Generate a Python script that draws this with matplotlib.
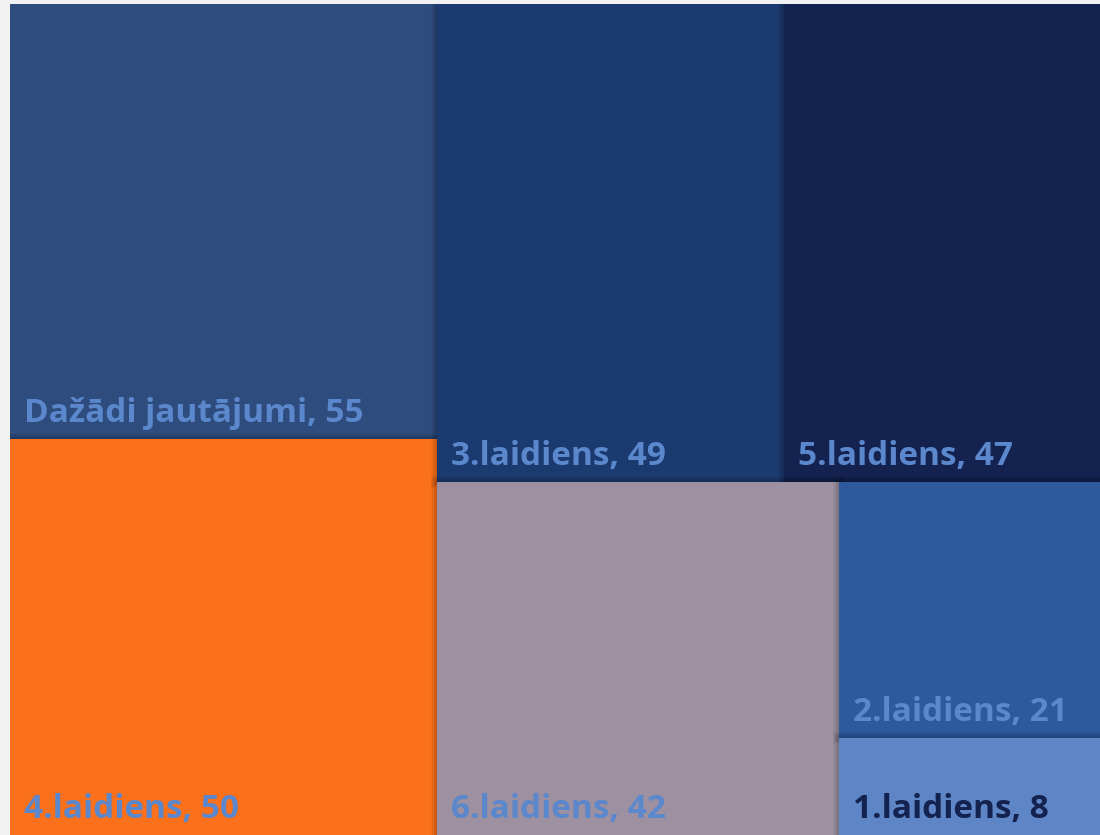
import matplotlib
matplotlib.use("Agg")
import matplotlib.pyplot as plt
from matplotlib.patches import Rectangle

labels = ["Dažādi jautājumi", "4.laidiens", "3.laidiens", "5.laidiens",
          "6.laidiens", "2.laidiens", "1.laidiens"]
values = [55, 50, 49, 47, 42, 21, 8]
colors = ["#2E4C7E", "#FB701A", "#1B3A6F", "#13224F", "#9D90A0", "#2C5A9D", "#5E85C5"]
label_colors = ["#5B87CC", "#5B87CC", "#5B87CC", "#5B87CC", "#5B87CC", "#5B87CC", "#13224F"]

W, H = 1106.0, 831.0


def worst(row, side):
    s = sum(row)
    return max(max(side * side * r / (s * s), (s * s) / (side * side * r)) for r in row)


def layout_row(row, x, y, w, h):
    s = sum(row)
    rects = []
    if w >= h:
        cw = s / h
        yy = y
        for r in row:
            rh = r / cw
            rects.append((x, yy, cw, rh))
            yy += rh
        return rects, (x + cw, y, w - cw, h)
    else:
        rh = s / w
        xx = x
        for r in row:
            rw = r / rh
            rects.append((xx, y, rw, rh))
            xx += rw
        return rects, (x, y + rh, w, h - rh)


def squarify(vals, x, y, w, h):
    total = sum(vals)
    areas = [v * w * h / total for v in vals]
    rects = []
    rest = (x, y, w, h)
    i = 0
    while i < len(areas):
        rx, ry, rw, rh = rest
        side = min(rw, rh)
        row = [areas[i]]
        i += 1
        while i < len(areas) and worst(row + [areas[i]], side) <= worst(row, side):
            row.append(areas[i])
            i += 1
        r, rest = layout_row(row, rx, ry, rw, rh)
        rects.extend(r)
    return rects


fig = plt.figure(figsize=(11, 8.35), dpi=100)
fig.patch.set_facecolor("#F2F2F2")
ax = fig.add_axes([10 / 1100, 0, W / 1100, H / 835])
ax.set_xlim(0, W)
ax.set_ylim(H, 0)
ax.axis("off")

rects = squarify(values, 0, 0, W, H)
for (x, y, w, h), lab, v, c, lc in zip(rects, labels, values, colors, label_colors):
    for k in range(6, 0, -1):
        ax.add_patch(Rectangle((x - k, y - k), w + 2 * k, h + 2 * k,
                               facecolor="black", edgecolor="none", alpha=0.035))
    ax.add_patch(Rectangle((x, y), w, h, facecolor=c, edgecolor="none"))
for (x, y, w, h), lab, v, c, lc in zip(rects, labels, values, colors, label_colors):
    ax.text(x + 14, y + h - 17, f"{lab}, {v}", color=lc, fontsize=24,
            fontweight="bold", family="Open Sans", ha="left", va="baseline")

fig.savefig("out.png", dpi=100, facecolor=fig.get_facecolor())
